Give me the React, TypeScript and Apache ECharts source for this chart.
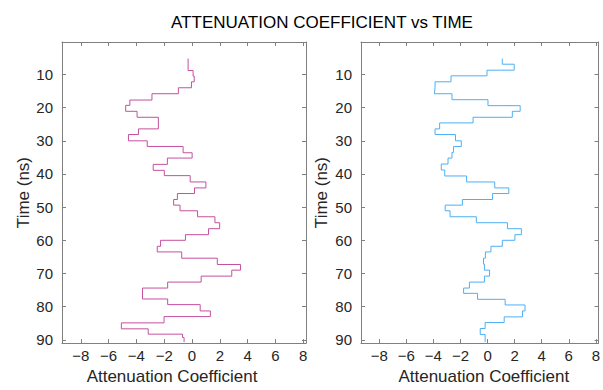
import React, { useEffect, useRef } from "react";
import * as echarts from "echarts";

// Step boundaries (ns) and the attenuation value held on each step
const leftTimes = [5.2, 8.8, 10.5, 12.2, 14.0, 15.8, 17.7, 19.3, 21.1, 22.9, 26.4, 28.1, 30.0, 31.7, 33.6, 35.2, 37.1, 38.9, 40.5, 42.4, 44.2, 45.9, 47.7, 49.4, 51.1, 52.9, 54.7, 56.5, 58.3, 60.0, 61.8, 63.5, 65.4, 67.3, 69.0, 70.8, 72.6, 74.4, 77.7, 79.4, 81.3, 83.0, 84.9, 86.7, 88.3, 89.3, 90.7];
const leftValues = [-0.28, 0.08, 0.16, -0.04, -0.98, -2.88, -4.47, -4.77, -3.95, -2.42, -3.85, -4.57, -3.22, -0.64, 0.01, -1.77, -2.79, -1.99, -0.13, 1.0, 0.18, -1.05, -1.32, -0.86, 0.4, 1.65, 1.99, 1.19, -0.47, -2.26, -2.5, -0.74, 1.82, 3.49, 2.86, 0.66, -1.75, -3.56, -1.75, 0.59, 1.32, -2.01, -5.08, -3.15, -0.68, -0.57];

const rightTimes = [5.2, 6.9, 8.7, 10.4, 12.2, 14.0, 15.8, 17.6, 19.4, 21.1, 22.9, 24.6, 26.4, 28.1, 30.0, 31.7, 33.5, 35.2, 37.0, 38.8, 40.6, 42.4, 44.2, 45.9, 47.7, 49.4, 51.1, 52.9, 54.7, 56.5, 58.3, 60.0, 61.8, 63.5, 65.4, 67.2, 69.0, 70.8, 72.6, 74.4, 76.0, 77.8, 79.5, 81.3, 83.1, 84.8, 86.6, 88.4, 90.7];
const rightValues = [1.09, 1.97, -0.04, -2.7, -3.88, -3.93, -2.63, 0.03, 2.41, 1.83, -1.07, -3.54, -3.88, -2.37, -1.94, -2.51, -2.63, -2.92, -3.42, -3.16, -1.55, 0.53, 1.57, 0.37, -1.86, -3.13, -2.77, -0.83, 1.47, 2.5, 2.02, 1.09, 0.25, -0.16, -0.3, -0.23, 0.15, -0.23, -1.34, -1.77, -0.74, 1.3, 2.77, 2.58, 1.23, -0.18, -0.54, -0.18];

const xTicks = [-8, -6, -4, -2, 0, 2, 4, 6, 8];
const yTicks = [10, 20, 30, 40, 50, 60, 70, 80, 90];

const TITLE = "ATTENUATION COEFFICIENT vs TIME";
const X_NAME = "Attenuation Coefficient";
const Y_NAME = "Time (ns)";

function stairs(times: number[], values: number[]): number[][] {
  const pts: number[][] = [];
  for (let i = 0; i < values.length; i++) {
    pts.push([values[i], times[i]]);
    pts.push([values[i], times[i + 1]]);
  }
  return pts;
}

const FONT = "Liberation Sans, Arial, sans-serif";
const AXIS_COLOR = "#808080";
const TEXT_COLOR = "#262626";

export default function App() {
  const ref = useRef<HTMLDivElement>(null);
  useEffect(() => {
    document.body.style.margin = "0";
    if (!ref.current) return;
    const chart = echarts.init(ref.current, null, { renderer: "svg" });

    const grids = [
      { left: 62, top: 42, width: 244, height: 304 },
      { left: 361, top: 42, width: 244, height: 304 },
    ];

    const minus = (v: number) => String(v).replace("-", "\u2212");

    const xBottom = (gi: number, namePad: number[]) => ({
      type: "value",
      gridIndex: gi,
      position: "bottom",
      min: -9.35,
      max: 8.2,
      name: X_NAME,
      nameLocation: "middle",
      nameGap: 23,
      nameTextStyle: { fontSize: 17, color: TEXT_COLOR, fontFamily: FONT, padding: namePad },
      axisLine: { show: true, onZero: false, lineStyle: { color: AXIS_COLOR, width: 1 } },
      axisTick: { show: true, inside: true, length: 4, customValues: xTicks, lineStyle: { color: AXIS_COLOR } },
      axisLabel: { show: true, customValues: xTicks, formatter: minus, fontSize: 15, color: TEXT_COLOR, fontFamily: FONT, margin: 5 },
      splitLine: { show: false },
    });
    const xTop = (gi: number) => ({
      type: "value",
      gridIndex: gi,
      position: "top",
      min: -9.35,
      max: 8.2,
      axisLine: { show: true, onZero: false, lineStyle: { color: AXIS_COLOR, width: 1 } },
      axisTick: { show: true, inside: true, length: 4, customValues: xTicks, lineStyle: { color: AXIS_COLOR } },
      axisLabel: { show: false },
      splitLine: { show: false },
    });
    const yLeft = (gi: number, gap: number) => ({
      type: "value",
      gridIndex: gi,
      position: "left",
      inverse: true,
      min: 0.2,
      max: 91,
      name: Y_NAME,
      nameLocation: "middle",
      nameRotate: 90,
      nameGap: gap,
      nameTextStyle: { fontSize: 17, color: TEXT_COLOR, fontFamily: FONT },
      axisLine: { show: true, onZero: false, lineStyle: { color: AXIS_COLOR, width: 1 } },
      axisTick: { show: true, inside: true, length: 4, customValues: yTicks, lineStyle: { color: AXIS_COLOR } },
      axisLabel: { show: true, customValues: yTicks, fontSize: 15, color: TEXT_COLOR, fontFamily: FONT, margin: 9 },
      splitLine: { show: false },
    });
    const yRight = (gi: number) => ({
      type: "value",
      gridIndex: gi,
      position: "right",
      inverse: true,
      min: 0.2,
      max: 91,
      axisLine: { show: true, onZero: false, lineStyle: { color: AXIS_COLOR, width: 1 } },
      axisTick: { show: true, inside: true, length: 4, customValues: yTicks, lineStyle: { color: AXIS_COLOR } },
      axisLabel: { show: false },
      splitLine: { show: false },
    });

    chart.setOption({
      animation: false,
      backgroundColor: "#ffffff",
      title: {
        text: TITLE,
        left: 317,
        top: 9,
        textAlign: "center",
        textStyle: { fontSize: 17, fontWeight: "normal", color: "#000000", fontFamily: FONT },
      },
      grid: grids,
      xAxis: [xBottom(0, [0, 24, 0, 0]), xTop(0), xBottom(1, [0, 0, 0, 8]), xTop(1)],
      yAxis: [yLeft(0, 29), yRight(0), yLeft(1, 31), yRight(1)],
      series: [
        {
          type: "line",
          xAxisIndex: 0,
          yAxisIndex: 0,
          data: stairs(leftTimes, leftValues),
          showSymbol: false,
          symbol: "none",
          lineStyle: { color: "#C4509E", width: 1 },
        },
        {
          type: "line",
          xAxisIndex: 2,
          yAxisIndex: 2,
          data: stairs(rightTimes, rightValues),
          showSymbol: false,
          symbol: "none",
          lineStyle: { color: "#4DB0F5", width: 1 },
        },
      ],
    });
    return () => chart.dispose();
  }, []);
  return <div ref={ref} style={{ width: 603, height: 390 }} />;
}
